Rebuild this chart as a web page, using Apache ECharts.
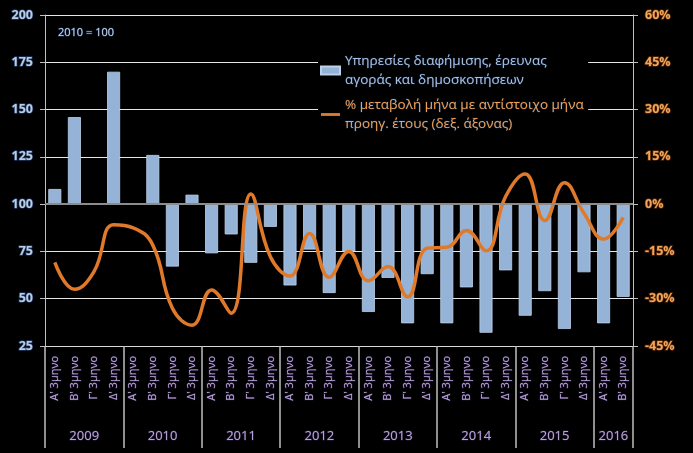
<!DOCTYPE html>
<html>
<head>
<meta charset="utf-8">
<script src="https://cdn.jsdelivr.net/npm/echarts@6/dist/echarts.min.js"></script>
<style>
html,body{margin:0;padding:0;background:#000;}
#chart{width:693px;height:453px;}
</style>
</head>
<body>
<div id="chart"></div>
<script>
// ---- data ----
var quarterLabels = ["Α' 3μηνο","Β' 3μηνο","Γ' 3μηνο","Δ' 3μηνο"];
var years = ['2009','2010','2011','2012','2013','2014','2015','2016'];
var yearQuarterCounts = [4,4,4,4,4,4,4,2];
var indexValues = [108,146,100,170,100,126,67,105,74,84,69,88,57,76,53,75,43,61,37,63,37,56,32,65,41,54,34,64,37,51];
var pctChange = [-18.5,-27,-21.4,-6.5,-7.5,-13,-33,-38.4,-27.2,-34.6,3.2,-16.7,-22.8,-9.3,-23.2,-15,-24.3,-19.8,-29.4,-14,-13.7,-8.4,-14.8,2.4,9.6,-5.2,6.8,-2.9,-11.1,-4.2];
var leftTicks = {min:25, max:200, step:25};
var rightTicks = {min:-45, max:60, step:15};
var baseValue = 100;
var seriesBarName = 'Υπηρεσίες διαφήμισης, έρευνας\nαγοράς και δημοσκοπήσεων';
var seriesLineName = '% μεταβολή μήνα με αντίστοιχο μήνα\nπροηγ. έτους (δεξ. άξονας)';
var noteText = '2010 = 100';

// ---- build ----
var categories = [];
var yearCenters = [], yearBounds = [0];
var pos = 0;
years.forEach(function(y, i){
  var n = yearQuarterCounts[i];
  for (var q = 0; q < n; q++) categories.push(quarterLabels[q]);
  yearCenters.push(pos + n/2);
  pos += n;
  yearBounds.push(pos);
});
var yearAt = {};
yearCenters.forEach(function(c,i){ yearAt[c] = years[i]; });

var font = '"Open Sans", "Noto Sans", sans-serif';
var chart = echarts.init(document.getElementById('chart'), null, {renderer:'canvas'});
var option = {
  backgroundColor: '#000000',
  animation: false,
  title: {
    text: noteText, left: 53, top: 22,
    textStyle: {fontFamily: font, fontSize: 11, fontWeight: 'normal', color: '#C5D6EA', textBorderColor:'#1F3864', textBorderWidth:1}
  },
  legend: {
    orient: 'vertical', left: 318, top: 38,
    backgroundColor: '#000000',
    itemGap: -13,
    padding: [4, 4, 0, 2],
    data: [
      {name: seriesBarName, icon: 'rect', textStyle: {color: '#A9C2E2'}},
      {name: seriesLineName, icon: 'path://M0,0M0,2.5H20V5.5H0ZM20,8', textStyle: {color: '#F0A050'}}
    ],
    textStyle: {fontFamily: font, fontSize: 13.5, lineHeight: 19, padding: [19,0,0,0], textBorderColor:'#10203a', textBorderWidth:1},
    itemWidth: 19, itemHeight: 8
  },
  grid: {left: 45, right: 60, top: 15, bottom: 107, containLabel: false},
  xAxis: [
    {
      type: 'category', data: categories, position: 'bottom',
      axisLine: {onZero: false, lineStyle: {color: '#D9D9D9', width: 1}},
      axisTick: {show: false},
      axisLabel: {rotate: 90, margin: 10, interval: 0, fontFamily: font, fontSize: 11, color: '#B8A6D4', textBorderColor:'#2d1d47', textBorderWidth:1}
    },
    {
      type: 'value', min: 0, max: categories.length, position: 'bottom',
      axisLine: {show: false, onZero: false},
      splitLine: {show: false},
      axisTick: {show: true, customValues: yearBounds, length: 102, lineStyle: {color: '#BFBFBF', width: 1.5}},
      axisLabel: {customValues: yearCenters, margin: 84, fontFamily: font, fontSize: 13, color: '#B8A6D4', textBorderColor:'#2d1d47', textBorderWidth:1,
        formatter: function(v){ return yearAt[v] || ''; }}
    }
  ],
  yAxis: [
    {
      type: 'value', min: leftTicks.min - baseValue, max: leftTicks.max - baseValue, interval: leftTicks.step,
      axisLine: {show: true, lineStyle: {color: '#BFBFBF'}},
      axisTick: {show: true, length: 5, lineStyle: {color: '#BFBFBF'}},
      splitLine: {show: true, lineStyle: {color: '#E6E6E6', width: 1}},
      axisLabel: {margin: 12, fontFamily: font, fontSize: 12.5, fontWeight: 'bold', color: '#B9CDE5', textBorderColor:'#1F3864', textBorderWidth:1.5,
        formatter: function(v){ return String(v + baseValue); }}
    },
    {
      type: 'value', min: rightTicks.min, max: rightTicks.max, interval: rightTicks.step, position: 'right',
      axisLine: {show: true, lineStyle: {color: '#BFBFBF'}},
      axisTick: {show: true, length: 5, lineStyle: {color: '#BFBFBF'}},
      splitLine: {show: false},
      axisLabel: {margin: 12, fontFamily: font, fontSize: 12.5, fontWeight: 'bold', color: '#F2A55E', textBorderColor:'#5a2a00', textBorderWidth:1.5,
        formatter: function(v){ return v + '%'; }}
    }
  ],
  series: [
    {
      name: seriesBarName, type: 'bar', xAxisIndex: 0, yAxisIndex: 0,
      data: indexValues.map(function(v){ return v - baseValue; }),
      barWidth: 13,
      itemStyle: {color: '#95B3D7', borderColor: '#BCD0E8', borderWidth: 0.8},
      markLine: {
        silent: true, symbol: 'none', label: {show: false},
        lineStyle: {color: '#8C8C8C', width: 2, type: 'solid'},
        data: [{yAxis: 0}]
      }
    },
    {
      name: seriesLineName, type: 'line', xAxisIndex: 0, yAxisIndex: 1,
      data: pctChange, smooth: 0.45, showSymbol: false, symbol: 'none',
      lineStyle: {color: '#E07A2A', width: 3.5},
      itemStyle: {color: '#E07A2A'}
    }
  ]
};
chart.setOption(option);
</script>
</body>
</html>
